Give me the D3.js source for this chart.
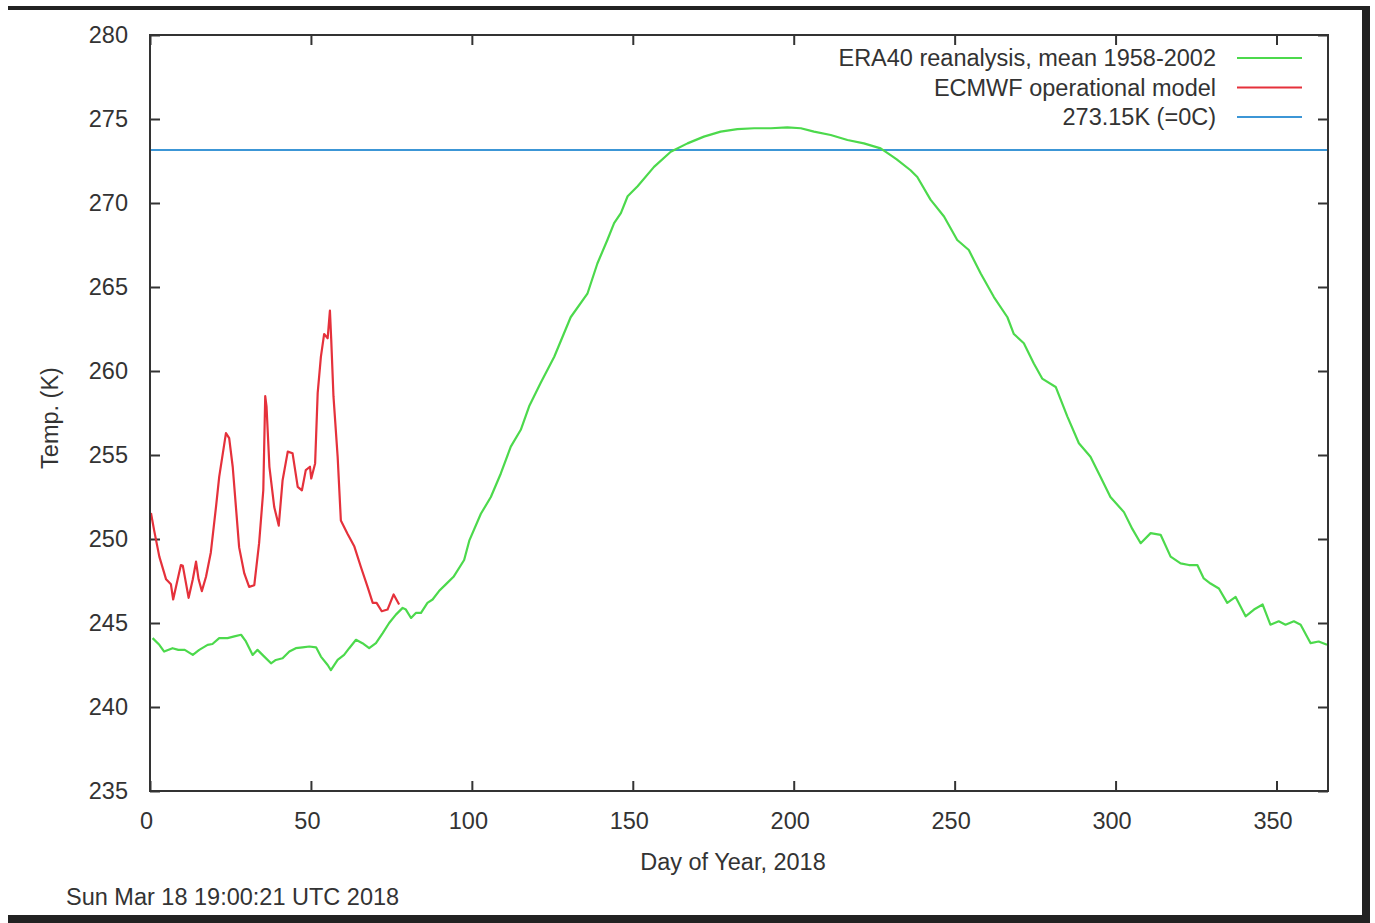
<!DOCTYPE html>
<html>
<head>
<meta charset="utf-8">
<script src="https://cdn.jsdelivr.net/npm/d3@7/dist/d3.min.js"></script>
<style>
  html, body { margin: 0; padding: 0; background: #fff; }
  svg { display: block; }
  text { font-family: "Liberation Sans", Arial, sans-serif; fill: #333; }
</style>
</head>
<body>
<svg id="chart"></svg>
<script>
// ERA40 mean
const eraDays  = [0.8, 2.9, 4.4, 7, 8.8, 10.8, 13.3, 15.3, 17.9, 19.4, 21.5, 24.1, 26.2, 28.3, 29.8, 31.9, 33.4, 35.5, 37.6, 39.1, 41.2, 43.3, 45.3, 47.4, 49.5, 51.6, 53.1, 55.2, 56.2, 58.3, 60.3, 61.9, 64, 66, 68.1, 70.2, 72.3, 74.3, 76.4, 78.5, 79.5, 81.1, 82.6, 84.2, 86.2, 87.8, 89.8, 91.9, 94.3, 97.6, 99.2, 102.8, 105.9, 109, 112.1, 115.2, 117.8, 121.4, 125.6, 130.7, 135.9, 139, 142.1, 144.2, 146.3, 148.4, 151.5, 156.6, 161.8, 167, 172.1, 177.3, 182.5, 187.7, 192.9, 198, 202.2, 206.3, 211.5, 216.7, 221.8, 227, 230.1, 232, 236.3, 238.4, 242.5, 246.7, 250.8, 254.4, 258.1, 262.2, 266.4, 268.4, 271.5, 274.6, 277.2, 281.4, 285, 288.6, 292.2, 295.3, 298.4, 302.6, 305.2, 307.8, 310.9, 314, 317.1, 320.2, 322.8, 325.4, 327.4, 329.5, 332.1, 334.7, 337.3, 340.4, 343, 345.7, 348.1, 350.7, 352.8, 355.4, 357.5, 360.6, 363.1, 365.7];
const eraTemps = [244.1, 243.7, 243.3, 243.5, 243.4, 243.4, 243.1, 243.4, 243.7, 243.75, 244.1, 244.1, 244.2, 244.3, 243.9, 243.1, 243.4, 243.0, 242.6, 242.8, 242.9, 243.3, 243.5, 243.55, 243.6, 243.55, 243.0, 242.5, 242.2, 242.8, 243.1, 243.5, 244.0, 243.8, 243.5, 243.8, 244.4, 245.0, 245.5, 245.9, 245.8, 245.3, 245.6, 245.6, 246.2, 246.4, 246.9, 247.3, 247.75, 248.75, 249.9, 251.5, 252.5, 253.9, 255.5, 256.5, 257.9, 259.3, 260.85, 263.2, 264.6, 266.4, 267.8, 268.8, 269.4, 270.4, 271.0, 272.15, 273.05, 273.55, 273.95, 274.25, 274.4, 274.45, 274.45, 274.5, 274.45, 274.25, 274.05, 273.75, 273.55, 273.25, 272.85, 272.6, 271.95, 271.55, 270.2, 269.2, 267.8, 267.2, 265.8, 264.4, 263.2, 262.2, 261.65, 260.45, 259.55, 259.05, 257.3, 255.7, 254.9, 253.7, 252.5, 251.6, 250.6, 249.75, 250.35, 250.25, 248.95, 248.55, 248.45, 248.45, 247.65, 247.35, 247.05, 246.2, 246.55, 245.4, 245.8, 246.1, 244.9, 245.1, 244.9, 245.1, 244.9, 243.8, 243.9, 243.7];

// ECMWF operational model, 2018 so far
const opDays  = [0.3, 1.3, 2.9, 5, 6.5, 7.2, 8.6, 9.6, 10.2, 12, 13.3, 14.3, 15.1, 16.1, 17.4, 18.9, 20.5, 21.5, 23.6, 24.6, 25.7, 26.7, 27.7, 29.3, 30.8, 32.4, 33.9, 35.2, 35.8, 36.2, 37.1, 38.6, 40, 41.2, 42.8, 44.3, 45.9, 47.2, 48.4, 49.7, 50.1, 51.3, 52.1, 53.1, 54.1, 55.2, 55.9, 56.3, 57, 58.3, 59.3, 61.4, 63.5, 65.5, 67.6, 69.2, 70.4, 72, 73.8, 75.7, 77.4];
const opTemps = [251.55, 250.5, 248.95, 247.6, 247.3, 246.4, 247.6, 248.45, 248.4, 246.5, 247.6, 248.65, 247.6, 246.9, 247.75, 249.2, 251.9, 253.7, 256.3, 256.0, 254.3, 251.9, 249.5, 247.95, 247.15, 247.25, 249.75, 252.9, 258.5, 257.9, 254.3, 251.9, 250.8, 253.5, 255.2, 255.1, 253.1, 252.9, 254.1, 254.3, 253.6, 254.5, 258.7, 260.85, 262.2, 261.95, 263.6, 261.9, 258.5, 254.9, 251.1, 250.3, 249.55, 248.35, 247.15, 246.2, 246.2, 245.7, 245.8, 246.7, 246.1];

const freezing = 273.15;
const xTicks = [0, 50, 100, 150, 200, 250, 300, 350];
const yTicks = [235, 240, 245, 250, 255, 260, 265, 270, 275, 280];
const legendLabels = ["ERA40 reanalysis, mean 1958-2002", "ECMWF operational model", "273.15K (=0C)"];
const colors = ["#4cd94c", "#e5313b", "#3c96d6"];

const W = 1375, H = 923;
const FS = 23.5;
const plot = {left: 150, top: 35, right: 1328, bottom: 791};

const svg = d3.select("#chart").attr("width", W).attr("height", H);

const x = d3.scaleLinear().domain([0, 366]).range([plot.left, plot.right]);
const y = d3.scaleLinear().domain([235, 280]).range([plot.bottom, plot.top]);

// dark frame from the screenshot
svg.append("rect").attr("x", 8).attr("y", 6).attr("width", 1362).attr("height", 4).attr("fill", "#222");
svg.append("rect").attr("x", 1362).attr("y", 6).attr("width", 8).attr("height", 917).attr("fill", "#222");
svg.append("rect").attr("x", 8).attr("y", 915).attr("width", 1362).attr("height", 8).attr("fill", "#222");

function styleAxis(g) {
  g.select(".domain").remove();
  g.selectAll(".tick line").attr("stroke", "#333").attr("stroke-width", 2);
  g.selectAll(".tick text").attr("font-size", FS).attr("fill", "#333")
    .attr("font-family", "'Liberation Sans', Arial, sans-serif");
}

svg.append("g").attr("transform", `translate(0,${plot.bottom})`)
  .call(d3.axisBottom(x).tickValues(xTicks).tickSizeInner(-10).tickSizeOuter(0).tickPadding(21))
  .call(styleAxis)
  .call(g => g.selectAll(".tick text").attr("dx", -4));
svg.append("g").attr("transform", `translate(0,${plot.top})`)
  .call(d3.axisTop(x).tickValues(xTicks).tickSizeInner(-10).tickSizeOuter(0).tickFormat(""))
  .call(styleAxis);
svg.append("g").attr("transform", `translate(${plot.left},0)`)
  .call(d3.axisLeft(y).tickValues(yTicks).tickSizeInner(-10).tickSizeOuter(0).tickPadding(22))
  .call(styleAxis);
svg.append("g").attr("transform", `translate(${plot.right},0)`)
  .call(d3.axisRight(y).tickValues(yTicks).tickSizeInner(-10).tickSizeOuter(0).tickFormat(""))
  .call(styleAxis);

// freezing line
svg.append("line")
  .attr("x1", x(0)).attr("x2", x(366))
  .attr("y1", y(freezing)).attr("y2", y(freezing))
  .attr("stroke", colors[2]).attr("stroke-width", 2);

const line = d3.line().x(d => x(d[0])).y(d => y(d[1]));

svg.append("path")
  .datum(d3.zip(eraDays, eraTemps))
  .attr("d", line).attr("fill", "none")
  .attr("stroke", colors[0]).attr("stroke-width", 2.2).attr("stroke-linejoin", "round");

svg.append("path")
  .datum(d3.zip(opDays, opTemps))
  .attr("d", line).attr("fill", "none")
  .attr("stroke", colors[1]).attr("stroke-width", 2.2).attr("stroke-linejoin", "round");

// border
svg.append("rect")
  .attr("x", plot.left).attr("y", plot.top)
  .attr("width", plot.right - plot.left).attr("height", plot.bottom - plot.top)
  .attr("fill", "none").attr("stroke", "#333").attr("stroke-width", 2);

// legend
const legend = svg.append("g");
legendLabels.forEach((lbl, i) => {
  const ly = 58 + i * 29.5;
  legend.append("text").attr("x", 1216).attr("y", ly).attr("dy", "0.35em")
    .attr("text-anchor", "end").attr("font-size", FS).text(lbl);
  legend.append("line").attr("x1", 1237).attr("x2", 1302).attr("y1", ly).attr("y2", ly)
    .attr("stroke", colors[i]).attr("stroke-width", 2);
});

// labels
svg.append("text")
  .attr("transform", "translate(50,418) rotate(-90)")
  .attr("text-anchor", "middle").attr("dy", "0.35em").attr("font-size", FS)
  .text("Temp. (K)");
svg.append("text")
  .attr("x", 733).attr("y", 862).attr("dy", "0.35em")
  .attr("text-anchor", "middle").attr("font-size", FS)
  .text("Day of Year, 2018");
svg.append("text")
  .attr("x", 66).attr("y", 897).attr("dy", "0.35em").attr("font-size", FS)
  .text("Sun Mar 18 19:00:21 UTC 2018");
</script>
</body>
</html>
